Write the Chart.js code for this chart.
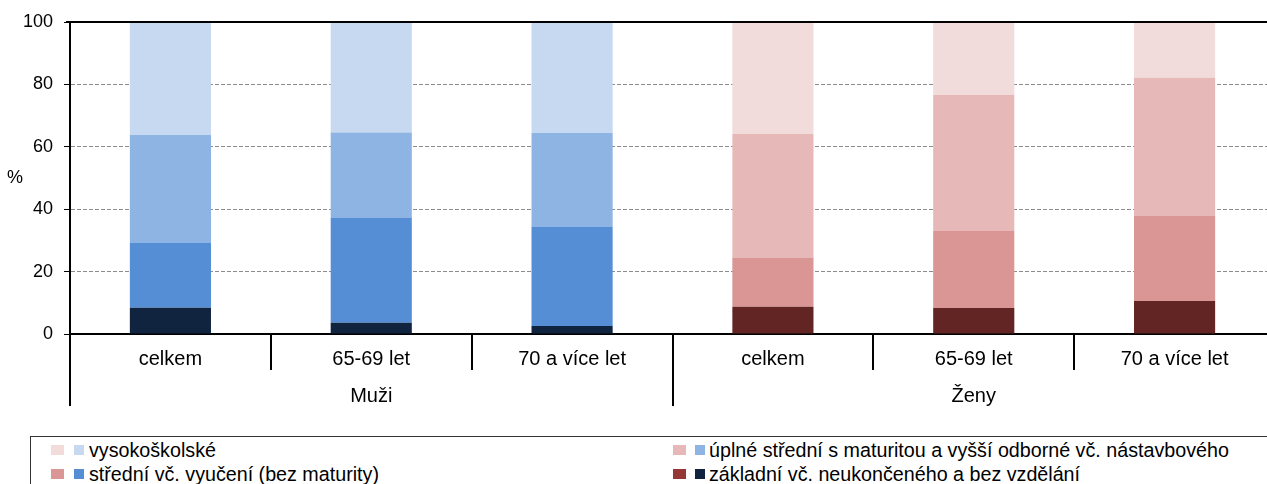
<!DOCTYPE html>
<html><head><meta charset="utf-8">
<script src="https://cdn.jsdelivr.net/npm/chart.js@4.4.1/dist/chart.umd.min.js"></script>
<style>
html,body{margin:0;padding:0;background:#fff;overflow:hidden;width:1267px;height:484px;}
#wrap{position:absolute;left:0;top:0;width:1276px;height:434px;}
#legend{position:absolute;left:30px;top:436px;width:1300px;height:60px;border-top:1px solid #333;border-left:1px solid #333;font-family:"Liberation Sans",Arial,sans-serif;font-size:19.7px;color:#000;}
.li{position:absolute;display:flex;align-items:center;white-space:nowrap;}
.sw{display:inline-block;height:10px;}
</style></head>
<body>
<div id="wrap"><canvas id="c"></canvas></div>
<div id="legend"></div>
<script>
const categories = ['celkem','65-69 let','70 a více let','celkem','65-69 let','70 a více let'];
const groups = ['Muži','Ženy'];
const groupSize = 3;
const yTicks = [0,20,40,60,80,100];
const seriesNames = ['základní vč. neukončeného a bez vzdělání','střední vč. vyučení (bez maturity)','úplné střední s maturitou a vyšší odborné vč. nástavbového','vysokoškolské'];
const zakladni = [8.4, 3.6, 2.6, 8.7, 8.3, 10.6];
const stredniVyuc = [20.8, 33.7, 31.7, 15.8, 24.7, 27.2];
const uplneStredni = [34.6, 27.3, 30.1, 39.6, 43.6, 44.3];
const vysokoskolske = [36.2, 35.4, 35.6, 35.9, 23.4, 17.9];
const seriesValues = [zakladni, stredniVyuc, uplneStredni, vysokoskolske];
const blueColors = ['#10243F','#558ED5','#8EB4E3','#C6D9F1'];
const redColors = ['#632523','#D99694','#E6B9B8','#F2DCDB'];
const legendRed = ['#953735','#D99694','#E6B9B8','#F2DCDB'];

const FONT = '"Liberation Sans", Arial, sans-serif';
Chart.defaults.font.family = FONT;
Chart.defaults.color = '#000';

const datasets = [];
seriesValues.forEach((vals, s) => {
  datasets.push({label: seriesNames[s] + ' (Muži)', data: vals.map((v,i)=> i<groupSize ? v : null), backgroundColor: blueColors[s], stack:'a'});
  datasets.push({label: seriesNames[s] + ' (Ženy)', data: vals.map((v,i)=> i>=groupSize ? v : null), backgroundColor: redColors[s], stack:'a'});
});

const deco = {
  id:'deco',
  afterDraw(chart){
    const ctx = chart.ctx, ca = chart.chartArea, xs = chart.scales.x;
    ctx.save();
    ctx.strokeStyle = '#000'; ctx.lineWidth = 2;
    ctx.beginPath(); ctx.moveTo(ca.left-4, ca.top); ctx.lineTo(ca.right, ca.top); ctx.stroke();
    for (let i=0;i<=categories.length;i++){
      const x = Math.round(xs.getPixelForValue(i-0.5));
      const long = (i % groupSize === 0);
      ctx.beginPath(); ctx.moveTo(x, ca.bottom); ctx.lineTo(x, ca.bottom + (long ? 72 : 36)); ctx.stroke();
    }
    ctx.fillStyle = '#000'; ctx.font = '20px ' + FONT; ctx.textAlign = 'center'; ctx.textBaseline = 'middle';
    groups.forEach((g, gi) => {
      const x = xs.getPixelForValue(gi*groupSize + (groupSize-1)/2);
      ctx.fillText(g, x, ca.bottom + 62);
    });
    ctx.font = '18px ' + FONT;
    ctx.fillText('%', 15, chart.scales.y.getPixelForValue(50));
    ctx.restore();
  }
};

new Chart(document.getElementById('c'), {
  type:'bar',
  data:{labels:categories, datasets},
  options:{
    responsive:true, maintainAspectRatio:false, animation:false,
    layout:{padding:{top:22,right:1,bottom:20,left:0}},
    plugins:{legend:{display:false}, tooltip:{enabled:false}},
    datasets:{bar:{categoryPercentage:1, barPercentage:0.404, borderWidth:0}},
    scales:{
      x:{stacked:true, offset:true,
        grid:{display:false, drawTicks:false},
        border:{display:true, color:'#000', width:2},
        ticks:{font:{size:20}, color:'#000', padding:13, maxRotation:0, autoSkip:false},
        afterFit(s){ s.height = 80; }
      },
      y:{stacked:true, min:0, max:100,
        afterBuildTicks(s){ s.ticks = yTicks.map(v=>({value:v})); },
        grid:{color:(c)=> (c.tick && (c.tick.value===0||c.tick.value===100)) ? 'rgba(0,0,0,0)' : '#8c8c8c', lineWidth:1, tickLength:6, tickColor:'#000', drawTicks:true},
        border:{display:true, color:'#000', width:2, dash:[4,2]},
        ticks:{font:{size:18}, color:'#000', padding:11},
        afterFit(s){ s.width = 70; }
      }
    }
  },
  plugins:[deco]
});

// legend
const lg = document.getElementById('legend');
const order = [3,2,1,0];
const pos = [[20,13],[642,13],[20,37],[642,37]];
const gaps = [[13,10,10,5],[13,9,10,4]];
order.forEach((s, k) => {
  const g = gaps[k % 2];
  const d = document.createElement('div');
  d.className = 'li';
  d.style.left = pos[k][0] + 'px';
  d.style.top = (pos[k][1] - 11) + 'px';
  d.style.height = '22px';
  d.innerHTML = '<span class="sw" style="width:'+g[0]+'px;margin-right:'+g[1]+'px;background:'+legendRed[s]+'"></span><span class="sw" style="width:'+g[2]+'px;margin-right:'+g[3]+'px;background:'+blueColors[s]+'"></span><span></span>';
  d.lastChild.textContent = seriesNames[s];
  lg.appendChild(d);
});
</script>
</body></html>
